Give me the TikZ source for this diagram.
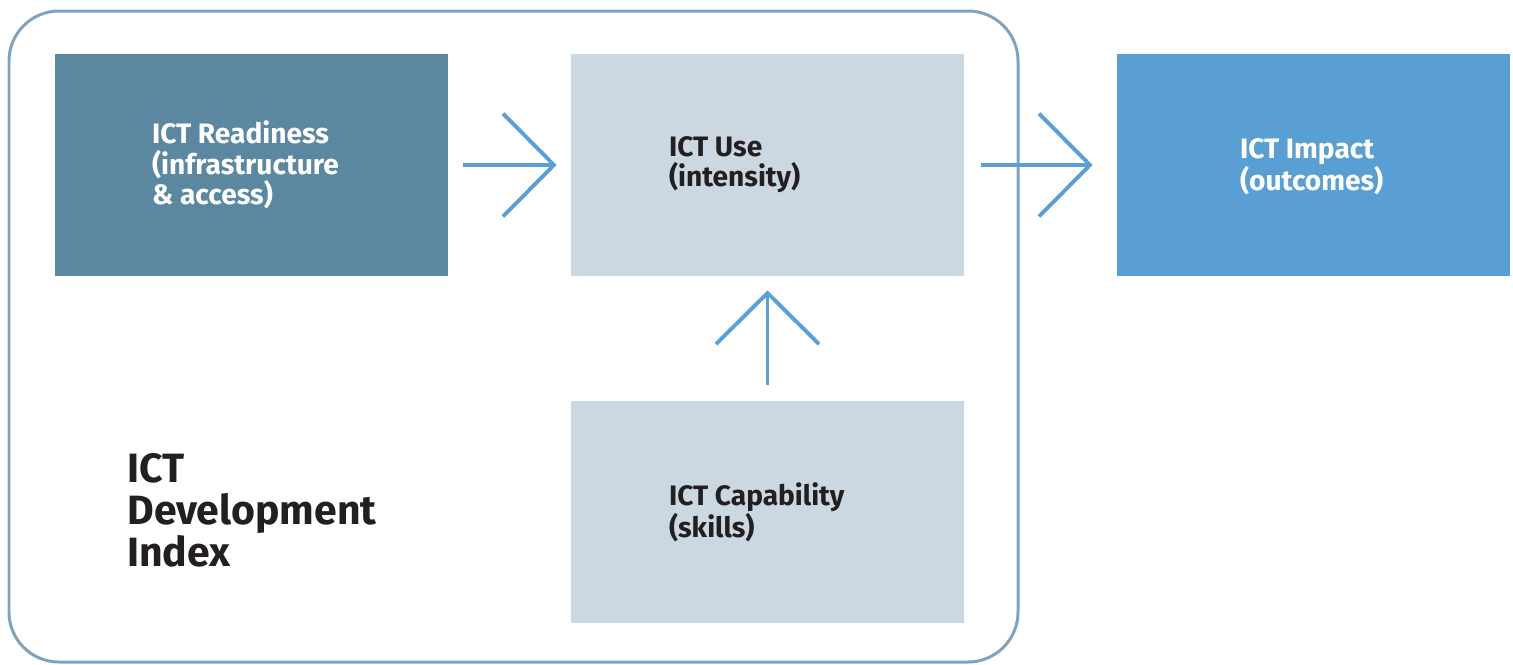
\documentclass[tikz,border=0pt]{standalone}
\usepackage{fontspec}
\setmainfont{Fira Sans}
\usetikzlibrary{arrows.meta}
\definecolor{outline}{HTML}{7FA3BE}
\definecolor{ready}{HTML}{5B88A0}
\definecolor{pale}{HTML}{CCD8E1}
\definecolor{impact}{HTML}{5A9FD4}
\definecolor{arrowc}{HTML}{5BA0D5}
\definecolor{ink}{HTML}{231F20}
\tikzset{
  box/.style={draw=none, minimum width=7.86cm, minimum height=4.44cm, inner sep=0pt},
  boxtext/.style={align=left, inner sep=0pt, font=\bfseries\fontsize{16}{17.2}\selectfont},
  bigtext/.style={align=left, inner sep=0pt, text=ink, font=\bfseries\fontsize{23.3}{24}\selectfont},
  flow/.style={draw=arrowc, line width=2.2pt, -{Straight Barb[length=1.02cm, width=2.06cm, sharp]}},
}
\begin{document}
\begin{tikzpicture}[x=0.02cm, y=-0.02cm]
\useasboundingbox (0,0) rectangle (1513,664);
\draw[outline, line width=1.7pt, rounded corners=1cm] (9,11) rectangle (1018,662);
\node[box, fill=ready] (ready) at (251.5,165) {};
\node[box, fill=pale] (use) at (767.5,165) {};
\node[box, fill=impact] (impact) at (1313.5,165) {};
\node[box, fill=pale] (cap) at (767.5,512) {};
\node[boxtext, text=white, anchor=west] (readyT) at ([xshift=1.94cm]ready.west) {ICT Readiness\\(infrastructure\\\& access)};
\node[boxtext, text=ink, anchor=west] (useT) at ([xshift=1.96cm]use.west) {ICT Use\\(intensity)};
\node[boxtext, text=white, anchor=west] (impactT) at ([xshift=2.46cm, yshift=-0.03cm]impact.west) {ICT Impact\\(outcomes)};
\node[boxtext, text=ink, anchor=west] (capT) at ([xshift=1.96cm]cap.west) {ICT Capability\\(skills)};
\node[bigtext, anchor=west] (idi) at (127,510) {ICT\\Development\\Index};
\draw[flow, shorten <=0.3cm, shorten >=0.28cm] (ready.east) -- (use.west);
\draw[flow, shorten <=0.34cm, shorten >=0.48cm] (use.east) -- (impact.west);
\draw[flow, shorten <=0.32cm, shorten >=0.28cm] (cap.north) -- (use.south);
\end{tikzpicture}
\end{document}
